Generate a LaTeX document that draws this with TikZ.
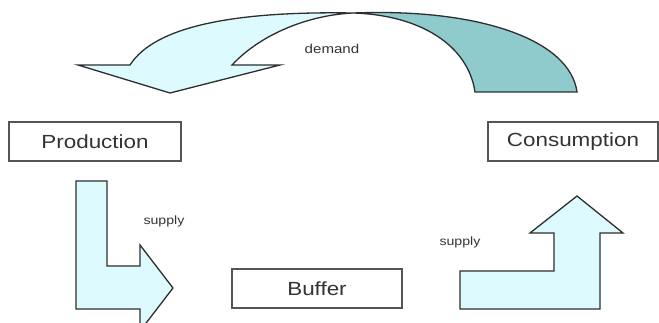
\documentclass[tikz,border=0pt]{standalone}
\usepackage{fontspec}
\setmainfont{Liberation Sans}
\definecolor{lightfill}{HTML}{DDFAFE}
\definecolor{darkfill}{HTML}{8FCACC}
\definecolor{edge}{HTML}{2E2E2E}
\definecolor{boxedge}{HTML}{555555}
\definecolor{txt}{HTML}{333333}
\tikzset{
  shapeline/.style={draw=edge, line width=1.3pt, line join=miter},
  labelbox/.style={draw=boxedge, line width=1.3pt, fill=white, minimum width=170pt, minimum height=39pt, inner sep=0pt, text=txt, font=\fontsize{19}{19}\selectfont},
  smalllabel/.style={text=txt, inner sep=0pt, font=\fontsize{12}{12}\selectfont}
}
\newcommand{\stretchtxt}[1]{\scalebox{1.18}[1]{#1}}
\begin{document}
\begin{tikzpicture}[x=1pt,y=-1pt]
\useasboundingbox (0,0) rectangle (659,323);
\clip (0,0) rectangle (659,323);
% top twisted arrow: light front part
\path[shapeline, fill=lightfill]
  (353,13) .. controls (235,11) and (155,26) .. (130,65)
  -- (78,65) -- (170,93) -- (280,65) -- (232,65)
  .. controls (262,33) and (310,15) .. (353,13) -- cycle;
% dark back part
\path[shapeline, fill=darkfill]
  (353,13) .. controls (480,8) and (570,40) .. (577,92)
  -- (475,92) .. controls (468,45) and (420,15) .. (353,13) -- cycle;
% left L arrow
\path[shapeline, fill=lightfill]
  (76,181) -- (107,181) -- (107,266) -- (140,266) -- (140,245)
  -- (173,288) -- (140,331) -- (140,309) -- (76,309) -- cycle;
% right up arrow
\path[shapeline, fill=lightfill]
  (460,271) -- (554,271) -- (554,233) -- (530,233) -- (577,196)
  -- (623,233) -- (600,233) -- (600,309) -- (460,309) -- cycle;
% boxes
\node[labelbox, minimum width=172pt] (prod) at (95,141.5) {\stretchtxt{Production}};
\node[labelbox] (cons) at (573,141.5) {\stretchtxt{Consumption}};
\node[labelbox] (buf) at (317,288.5) {\stretchtxt{Buffer}};
% labels
\node[smalllabel, font=\fontsize{12.8}{12.8}\selectfont] (dem) at (332,49) {\stretchtxt{demand}};
\node[smalllabel] (sup1) at (164,221) {\stretchtxt{supply}};
\node[smalllabel] (sup2) at (460,242) {\stretchtxt{supply}};
\end{tikzpicture}
\end{document}
